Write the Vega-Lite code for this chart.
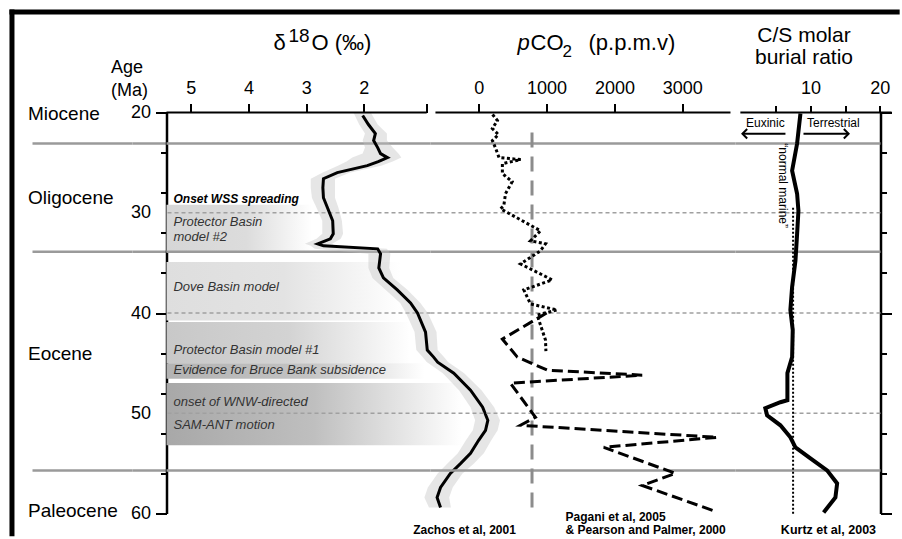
{
  "$schema": "https://vega.github.io/schema/vega-lite/v6.json",
  "padding": {"left": 6.5, "top": 6.5, "right": 0, "bottom": 0},
  "background": "white",
  "spacing": 0,
  "bounds": "flush",
  "config": {
    "view": {"stroke": null},
    "font": "Liberation Sans",
    "axis": {"grid": false, "labelFont": "Liberation Sans", "titleFont": "Liberation Sans", "labelColor": "#000", "titleColor": "#000", "domainColor": "#000", "tickColor": "#000"}
  },
  "datasets": {
    "bounds": [{"age": 23.1}, {"age": 33.9}, {"age": 55.7}],
    "dashes": [{"age": 30}, {"age": 40}, {"age": 50}],
    "d18o": [
      {"age": 20.3, "v": 2.02}, {"age": 21.2, "v": 1.92}, {"age": 22.1, "v": 1.80}, {"age": 22.8, "v": 1.83},
      {"age": 23.5, "v": 1.76}, {"age": 24.1, "v": 1.71}, {"age": 24.5, "v": 1.59}, {"age": 24.9, "v": 1.75},
      {"age": 25.3, "v": 1.94}, {"age": 26.0, "v": 2.46}, {"age": 26.6, "v": 2.70}, {"age": 27.5, "v": 2.71},
      {"age": 28.5, "v": 2.70}, {"age": 29.5, "v": 2.63}, {"age": 30.8, "v": 2.54}, {"age": 32.1, "v": 2.53},
      {"age": 32.6, "v": 2.58}, {"age": 33.1, "v": 2.80}, {"age": 33.3, "v": 2.70}, {"age": 33.6, "v": 1.76},
      {"age": 34.1, "v": 1.71}, {"age": 35.5, "v": 1.74}, {"age": 36.5, "v": 1.66}, {"age": 37.7, "v": 1.42},
      {"age": 39.0, "v": 1.19}, {"age": 40.0, "v": 1.07}, {"age": 41.9, "v": 0.93}, {"age": 43.7, "v": 0.90},
      {"age": 44.4, "v": 0.79}, {"age": 44.9, "v": 0.72}, {"age": 46.0, "v": 0.44}, {"age": 47.7, "v": 0.15},
      {"age": 49.4, "v": -0.06}, {"age": 50.7, "v": -0.15}, {"age": 51.7, "v": -0.11}, {"age": 52.7, "v": 0.01},
      {"age": 54.0, "v": 0.15}, {"age": 55.0, "v": 0.32}, {"age": 56.0, "v": 0.50}, {"age": 57.4, "v": 0.67},
      {"age": 58.4, "v": 0.73}, {"age": 59.4, "v": 0.67}
    ],
    "scatter": [
      {"age": 20.0, "lo": 1.88, "hi": 2.18}, {"age": 21.2, "lo": 1.76, "hi": 2.08}, {"age": 22.1, "lo": 1.60, "hi": 1.98},
      {"age": 22.8, "lo": 1.60, "hi": 2.02}, {"age": 23.5, "lo": 1.50, "hi": 1.98}, {"age": 24.1, "lo": 1.40, "hi": 2.02},
      {"age": 24.5, "lo": 1.35, "hi": 2.20}, {"age": 24.9, "lo": 1.50, "hi": 2.30}, {"age": 25.3, "lo": 1.70, "hi": 2.45},
      {"age": 26.0, "lo": 2.25, "hi": 2.72}, {"age": 26.6, "lo": 2.50, "hi": 2.92}, {"age": 27.5, "lo": 2.50, "hi": 2.92},
      {"age": 28.5, "lo": 2.50, "hi": 2.90}, {"age": 29.5, "lo": 2.44, "hi": 2.82}, {"age": 30.8, "lo": 2.38, "hi": 2.72},
      {"age": 32.1, "lo": 2.36, "hi": 2.72}, {"age": 32.6, "lo": 2.40, "hi": 2.82}, {"age": 33.1, "lo": 2.55, "hi": 3.02},
      {"age": 33.3, "lo": 2.50, "hi": 2.92}, {"age": 33.6, "lo": 1.60, "hi": 2.85}, {"age": 34.1, "lo": 1.54, "hi": 1.92},
      {"age": 35.5, "lo": 1.56, "hi": 1.92}, {"age": 36.5, "lo": 1.49, "hi": 1.85}, {"age": 37.7, "lo": 1.24, "hi": 1.62},
      {"age": 39.0, "lo": 1.02, "hi": 1.37}, {"age": 40.0, "lo": 0.89, "hi": 1.27}, {"age": 41.9, "lo": 0.74, "hi": 1.12},
      {"age": 43.7, "lo": 0.72, "hi": 1.09}, {"age": 44.4, "lo": 0.61, "hi": 0.98}, {"age": 44.9, "lo": 0.54, "hi": 0.91},
      {"age": 46.0, "lo": 0.26, "hi": 0.63}, {"age": 47.7, "lo": -0.04, "hi": 0.35}, {"age": 49.4, "lo": -0.26, "hi": 0.15},
      {"age": 50.7, "lo": -0.36, "hi": 0.07}, {"age": 51.7, "lo": -0.32, "hi": 0.11}, {"age": 52.7, "lo": -0.21, "hi": 0.23},
      {"age": 54.0, "lo": -0.08, "hi": 0.37}, {"age": 55.0, "lo": 0.09, "hi": 0.55}, {"age": 56.0, "lo": 0.29, "hi": 0.72},
      {"age": 57.4, "lo": 0.46, "hi": 0.89}, {"age": 58.4, "lo": 0.52, "hi": 0.95}, {"age": 59.4, "lo": 0.49, "hi": 0.87}
    ],
    "bands": [
      {"band": "P2", "a0": 29.2, "a1": 33.93, "x0": 5.421, "x1": 2.9},
      {"band": "Dove", "a0": 34.92, "a1": 40.74, "x0": 5.421, "x1": 1.36},
      {"band": "P1", "a0": 40.9, "a1": 45.0, "x0": 5.421, "x1": 1.2},
      {"band": "BB", "a0": 45.0, "a1": 46.55, "x0": 5.421, "x1": 0.95},
      {"band": "WNW", "a0": 46.99, "a1": 53.2, "x0": 5.421, "x1": 0.3}
    ],
    "blabels": [
      {"t": "Protector Basin", "age": 30.97},
      {"t": "model #2", "age": 32.46},
      {"t": "Dove Basin model", "age": 37.45},
      {"t": "Protector Basin model #1", "age": 43.73},
      {"t": "Evidence for Bruce Bank subsidence", "age": 45.72},
      {"t": "onset of WNW-directed", "age": 48.91},
      {"t": "SAM-ANT motion", "age": 51.2}
    ],
    "pp": [
      {"age": 20.2, "ppm": 203}, {"age": 20.8, "ppm": 275}, {"age": 21.6, "ppm": 200}, {"age": 22.2, "ppm": 290},
      {"age": 22.8, "ppm": 201}, {"age": 23.6, "ppm": 250}, {"age": 24.5, "ppm": 299}, {"age": 24.7, "ppm": 618},
      {"age": 25.1, "ppm": 348}, {"age": 26.1, "ppm": 348}, {"age": 26.9, "ppm": 493}, {"age": 28.1, "ppm": 394},
      {"age": 29.3, "ppm": 369}, {"age": 29.6, "ppm": 320}, {"age": 31.8, "ppm": 910}, {"age": 32.8, "ppm": 763},
      {"age": 33.1, "ppm": 984}, {"age": 33.8, "ppm": 910}, {"age": 35.1, "ppm": 615}, {"age": 36.7, "ppm": 1083},
      {"age": 37.7, "ppm": 664}, {"age": 39.1, "ppm": 763}, {"age": 39.7, "ppm": 1156}, {"age": 40.2, "ppm": 861},
      {"age": 42.7, "ppm": 984}, {"age": 43.8, "ppm": 990}
    ],
    "pagani": [
      {"age": 40.0, "ppm": 1000}, {"age": 42.6, "ppm": 348}, {"age": 44.4, "ppm": 569}, {"age": 45.7, "ppm": 1010},
      {"age": 46.2, "ppm": 2410}, {"age": 47.0, "ppm": 466}, {"age": 50.4, "ppm": 836}, {"age": 51.2, "ppm": 615},
      {"age": 52.4, "ppm": 3516}, {"age": 53.4, "ppm": 1844}, {"age": 56.0, "ppm": 2901}, {"age": 57.2, "ppm": 2410},
      {"age": 59.85, "ppm": 3516}
    ],
    "cs": [
      {"age": 20.1, "v": 8.56}, {"age": 23.1, "v": 8.08}, {"age": 25.8, "v": 7.36}, {"age": 28.1, "v": 8.08},
      {"age": 29.8, "v": 8.27}, {"age": 32.1, "v": 8.08}, {"age": 34.8, "v": 7.84}, {"age": 37.4, "v": 7.36},
      {"age": 39.7, "v": 7.11}, {"age": 41.7, "v": 7.45}, {"age": 44.4, "v": 7.36}, {"age": 46.0, "v": 6.68},
      {"age": 48.7, "v": 6.68}, {"age": 48.9, "v": 5.67}, {"age": 49.5, "v": 3.5}, {"age": 50.2, "v": 3.75},
      {"age": 51.2, "v": 5.67}, {"age": 52.4, "v": 7.11}, {"age": 53.4, "v": 7.84}, {"age": 54.5, "v": 10.0},
      {"age": 55.7, "v": 12.4}, {"age": 57.0, "v": 13.85}, {"age": 58.4, "v": 13.6}, {"age": 59.9, "v": 11.9}
    ],
    "frame": [
      {"x0": 8.10, "x1": 8.10, "a0": 9.73, "a1": 62.27},
      {"x0": 8.144, "x1": -7.29, "a0": 9.98, "a1": 9.98}
    ]
  },
  "hconcat": [
    {
      "width": 100,
      "height": 401,
      "data": {"name": "bounds"},
      "mark": {"type": "rule", "color": "#9a9a9a", "strokeWidth": 2.5},
      "encoding": {
        "y": {
          "field": "age", "type": "quantitative",
          "scale": {"domain": [20, 60], "reverse": true, "nice": false, "zero": false},
          "axis": {
            "orient": "left",
            "values": [20.1, 28.44, 44.06, 59.7],
            "labelExpr": "datum.value < 21 ? 'Miocene' : datum.value < 30 ? 'Oligocene' : datum.value < 50 ? 'Eocene' : 'Paleocene'",
            "domain": false, "ticks": false, "tickSize": 0,
            "labelAlign": "left", "labelBaseline": "middle", "labelPadding": 5,
            "labelFontSize": 19, "labelOverlap": false, "title": null
          }
        }
      }
    },
    {
      "width": 34,
      "height": 401,
      "data": {"name": "bounds"},
      "mark": {"type": "rule", "color": "#9a9a9a", "strokeWidth": 2.5},
      "encoding": {
        "y": {
          "field": "age", "type": "quantitative",
          "scale": {"domain": [20, 60], "reverse": true, "nice": false, "zero": false},
          "axis": {
            "orient": "right",
            "values": [20, 30, 40, 50, 60],
            "format": "d",
            "domain": false, "ticks": false, "tickSize": 0,
            "labelAlign": "right", "labelBaseline": "middle", "labelPadding": -16,
            "labelFontSize": 18, "labelOverlap": false, "labelFlush": false, "title": null
          }
        }
      }
    },
    {
      "width": 264,
      "height": 401,
      "layer": [
        {
          "data": {"name": "bands"},
          "transform": [{"filter": "datum.band === 'P2'"}],
          "mark": {"type": "rect", "color": {"gradient": "linear", "x1": 0, "y1": 0, "x2": 1, "y2": 0, "stops": [{"offset": 0, "color": "#d6d6d6"}, {"offset": 0.55, "color": "#dcdcdc"}, {"offset": 1, "color": "#ffffff"}]}},
          "encoding": {
            "x": {"field": "x0", "type": "quantitative",
              "scale": {"domain": [0.844, 5.421], "reverse": true, "nice": false, "zero": false},
              "axis": {"orient": "top", "values": [5, 4, 3, 2, 0.91], "format": "d", "labelExpr": "datum.value < 1 ? '' : datum.label", "domain": false, "tickSize": 9, "tickWidth": 2, "labelFontSize": 18, "labelPadding": 6, "labelFlush": false, "labelOverlap": false, "title": null}},
            "x2": {"field": "x1"},
            "y": {"field": "a0", "type": "quantitative",
              "scale": {"domain": [20, 60], "reverse": true, "nice": false, "zero": false},
              "axis": {
                "orient": "left",
                "values": [20, 22, 24, 26, 28, 30, 32, 34, 36, 38, 40, 42, 44, 46, 48, 50, 52, 54, 56, 58, 60],
                "labels": false,
                "tickSize": {"condition": {"test": "datum.value % 10 !== 0", "value": 6}, "value": 11},
                "tickWidth": 2, "domainWidth": 2.5,
                "title": ["Age", "(Ma)"], "titleAngle": 0, "titleAlign": "left", "titleBaseline": "alphabetic",
                "titleX": -56, "titleY": -40, "titleFontSize": 18, "titleFontWeight": "normal", "titleLineHeight": 23
              }},
            "y2": {"field": "a1"}
          }
        },
        {
          "data": {"name": "bands"},
          "transform": [{"filter": "datum.band === 'Dove'"}],
          "mark": {"type": "rect", "color": {"gradient": "linear", "x1": 0, "y1": 0, "x2": 1, "y2": 0, "stops": [{"offset": 0, "color": "#dedede"}, {"offset": 0.5, "color": "#e3e3e3"}, {"offset": 1, "color": "#ffffff"}]}},
          "encoding": {"x": {"field": "x0", "type": "quantitative"}, "x2": {"field": "x1"}, "y": {"field": "a0", "type": "quantitative"}, "y2": {"field": "a1"}}
        },
        {
          "data": {"name": "bands"},
          "transform": [{"filter": "datum.band === 'P1'"}],
          "mark": {"type": "rect", "color": {"gradient": "linear", "x1": 0, "y1": 0, "x2": 1, "y2": 0, "stops": [{"offset": 0, "color": "#c8c8c8"}, {"offset": 0.5, "color": "#d3d3d3"}, {"offset": 1, "color": "#ffffff"}]}},
          "encoding": {"x": {"field": "x0", "type": "quantitative"}, "x2": {"field": "x1"}, "y": {"field": "a0", "type": "quantitative"}, "y2": {"field": "a1"}}
        },
        {
          "data": {"name": "bands"},
          "transform": [{"filter": "datum.band === 'BB'"}],
          "mark": {"type": "rect", "color": {"gradient": "linear", "x1": 0, "y1": 0, "x2": 1, "y2": 0, "stops": [{"offset": 0, "color": "#b3b3b3"}, {"offset": 0.55, "color": "#c3c3c3"}, {"offset": 1, "color": "#ffffff"}]}},
          "encoding": {"x": {"field": "x0", "type": "quantitative"}, "x2": {"field": "x1"}, "y": {"field": "a0", "type": "quantitative"}, "y2": {"field": "a1"}}
        },
        {
          "data": {"name": "bands"},
          "transform": [{"filter": "datum.band === 'WNW'"}],
          "mark": {"type": "rect", "color": {"gradient": "linear", "x1": 0, "y1": 0, "x2": 1, "y2": 0, "stops": [{"offset": 0, "color": "#a8a8a8"}, {"offset": 0.5, "color": "#bfbfbf"}, {"offset": 1, "color": "#ffffff"}]}},
          "encoding": {"x": {"field": "x0", "type": "quantitative"}, "x2": {"field": "x1"}, "y": {"field": "a0", "type": "quantitative"}, "y2": {"field": "a1"}}
        },
        {
          "data": {"name": "bounds"},
          "mark": {"type": "rule", "color": "#9a9a9a", "strokeWidth": 2.5},
          "encoding": {"y": {"field": "age", "type": "quantitative"}}
        },
        {
          "data": {"name": "dashes"},
          "mark": {"type": "rule", "color": "#a0a0a0", "strokeWidth": 1.5, "strokeDash": [4, 3]},
          "encoding": {"y": {"field": "age", "type": "quantitative"}}
        },
        {
          "data": {"name": "scatter"},
          "mark": {"type": "area", "orient": "horizontal", "color": "#c0c0c0", "opacity": 0.4},
          "encoding": {"y": {"field": "age", "type": "quantitative"}, "x": {"field": "lo", "type": "quantitative"}, "x2": {"field": "hi"}}
        },
        {
          "data": {"name": "d18o"},
          "mark": {"type": "line", "color": "#000", "strokeWidth": 3},
          "encoding": {"y": {"field": "age", "type": "quantitative"}, "x": {"field": "v", "type": "quantitative"}, "order": {"field": "age", "type": "quantitative"}}
        },
        {
          "data": {"values": [{"t": "Onset WSS spreading", "age": 28.67}]},
          "mark": {"type": "text", "align": "left", "baseline": "middle", "fontSize": 12, "fontStyle": "italic", "fontWeight": "bold", "color": "#000"},
          "encoding": {"x": {"datum": 5.30}, "y": {"field": "age", "type": "quantitative"}, "text": {"field": "t"}}
        },
        {
          "data": {"name": "blabels"},
          "mark": {"type": "text", "align": "left", "baseline": "middle", "fontSize": 13, "fontStyle": "italic", "color": "#333333"},
          "encoding": {"x": {"datum": 5.30}, "y": {"field": "age", "type": "quantitative"}, "text": {"field": "t"}}
        },
        {
          "data": {"values": [{"x0": 5.421, "x1": 0.91}]},
          "mark": {"type": "rule", "color": "#000", "strokeWidth": 2},
          "encoding": {"x": {"field": "x0", "type": "quantitative"}, "x2": {"field": "x1"}, "y": {"datum": 20}}
        },
        {
          "data": {"values": [{}]},
          "mark": {"type": "text", "text": "δ", "align": "left", "baseline": "alphabetic", "fontSize": 22, "color": "#000"},
          "encoding": {"x": {"datum": 3.566}, "y": {"datum": 13.815}}
        },
        {
          "data": {"values": [{}]},
          "mark": {"type": "text", "text": "18", "align": "left", "baseline": "alphabetic", "fontSize": 19, "color": "#000"},
          "encoding": {"x": {"datum": 3.306}, "y": {"datum": 12.92}}
        },
        {
          "data": {"values": [{}]},
          "mark": {"type": "text", "text": "O (‰)", "align": "left", "baseline": "alphabetic", "fontSize": 22, "color": "#000"},
          "encoding": {"x": {"datum": 2.907}, "y": {"datum": 13.815}}
        },
        {
          "data": {"values": [{}]},
          "mark": {"type": "text", "text": "Zachos et al, 2001", "align": "center", "baseline": "middle", "fontSize": 12, "fontWeight": "bold", "color": "#000"},
          "encoding": {"x": {"datum": 0.254}, "y": {"datum": 61.68}}
        },
        {
          "data": {"name": "frame"},
          "mark": {"type": "rule", "color": "#000", "strokeWidth": 5},
          "encoding": {"x": {"field": "x0", "type": "quantitative"}, "x2": {"field": "x1"}, "y": {"field": "a0", "type": "quantitative"}, "y2": {"field": "a1"}}
        }
      ]
    },
    {
      "width": 305,
      "height": 401,
      "layer": [
        {
          "data": {"name": "bounds"},
          "mark": {"type": "rule", "color": "#9a9a9a", "strokeWidth": 2.5},
          "encoding": {"y": {"field": "age", "type": "quantitative", "scale": {"domain": [20, 60], "reverse": true, "nice": false, "zero": false}, "axis": null}}
        },
        {
          "data": {"name": "dashes"},
          "mark": {"type": "rule", "color": "#a0a0a0", "strokeWidth": 1.5, "strokeDash": [4, 3]},
          "encoding": {"y": {"field": "age", "type": "quantitative"}}
        },
        {
          "data": {"values": [{"ppm": 785, "a0": 22.0, "a1": 59.9}]},
          "mark": {"type": "rule", "color": "#8c8c8c", "strokeWidth": 3, "strokeDash": [15, 9]},
          "encoding": {
            "x": {"field": "ppm", "type": "quantitative",
              "scale": {"domain": [-712, 3786], "nice": false, "zero": false},
              "axis": {"orient": "top", "values": [0, 1000, 2000, 3000], "format": "d", "domain": false, "tickSize": 9, "tickWidth": 2, "labelFontSize": 18, "labelPadding": 6, "labelFlush": false, "labelOverlap": false, "title": null}},
            "y": {"field": "a0", "type": "quantitative"},
            "y2": {"field": "a1"}
          }
        },
        {
          "data": {"name": "pp"},
          "mark": {"type": "line", "color": "#000", "strokeWidth": 3, "strokeDash": [3, 2.5]},
          "encoding": {"x": {"field": "ppm", "type": "quantitative"}, "y": {"field": "age", "type": "quantitative"}, "order": {"field": "age", "type": "quantitative"}}
        },
        {
          "data": {"name": "pagani"},
          "mark": {"type": "line", "color": "#000", "strokeWidth": 3, "strokeDash": [11, 5]},
          "encoding": {"x": {"field": "ppm", "type": "quantitative"}, "y": {"field": "age", "type": "quantitative"}, "order": {"field": "age", "type": "quantitative"}}
        },
        {
          "data": {"values": [{"x0": -639, "x1": 3712}]},
          "mark": {"type": "rule", "color": "#000", "strokeWidth": 2},
          "encoding": {"x": {"field": "x0", "type": "quantitative"}, "x2": {"field": "x1"}, "y": {"datum": 20}}
        },
        {
          "data": {"values": [{}]},
          "mark": {"type": "text", "text": "p", "align": "left", "baseline": "alphabetic", "fontSize": 22, "fontStyle": "italic", "color": "#000"},
          "encoding": {"x": {"datum": 571}, "y": {"datum": 13.72}}
        },
        {
          "data": {"values": [{}]},
          "mark": {"type": "text", "text": "CO", "align": "left", "baseline": "alphabetic", "fontSize": 22, "color": "#000"},
          "encoding": {"x": {"datum": 763}, "y": {"datum": 13.72}}
        },
        {
          "data": {"values": [{}]},
          "mark": {"type": "text", "text": "2", "align": "left", "baseline": "alphabetic", "fontSize": 17, "color": "#000"},
          "encoding": {"x": {"datum": 1235}, "y": {"datum": 14.51}}
        },
        {
          "data": {"values": [{}]},
          "mark": {"type": "text", "text": "(p.p.m.v)", "align": "left", "baseline": "alphabetic", "fontSize": 22, "color": "#000"},
          "encoding": {"x": {"datum": 1618}, "y": {"datum": 13.72}}
        },
        {
          "data": {"values": [{"t": "Pagani et al, 2005", "age": 60.38}, {"t": "& Pearson and Palmer, 2000", "age": 61.68}]},
          "mark": {"type": "text", "align": "left", "baseline": "middle", "fontSize": 12, "fontWeight": "bold", "color": "#000"},
          "encoding": {"x": {"datum": 1280}, "y": {"field": "age", "type": "quantitative"}, "text": {"field": "t"}}
        }
      ]
    },
    {
      "width": 145,
      "height": 401,
      "layer": [
        {
          "data": {"name": "bounds"},
          "mark": {"type": "rule", "color": "#9a9a9a", "strokeWidth": 2.5},
          "encoding": {"y": {"field": "age", "type": "quantitative",
            "scale": {"domain": [20, 60], "reverse": true, "nice": false, "zero": false},
            "axis": {
              "orient": "right",
              "values": [20, 22, 24, 26, 28, 30, 32, 34, 36, 38, 40, 42, 44, 46, 48, 50, 52, 54, 56, 58, 60],
              "labels": false,
              "tickSize": {"condition": {"test": "datum.value % 10 !== 0", "value": 6}, "value": 11},
              "tickWidth": 2, "domainWidth": 2.5, "title": null
            }}}
        },
        {
          "data": {"name": "dashes"},
          "mark": {"type": "rule", "color": "#a0a0a0", "strokeWidth": 1.5, "strokeDash": [4, 3]},
          "encoding": {"y": {"field": "age", "type": "quantitative"}}
        },
        {
          "data": {"values": [{"v": 7.5, "a0": 29.5, "a1": 60.2}]},
          "mark": {"type": "rule", "color": "#000", "strokeWidth": 2, "strokeDash": [2, 2]},
          "encoding": {
            "x": {"field": "v", "type": "quantitative",
              "scale": {"domain": [-0.8, 20.1], "nice": false, "zero": false},
              "axis": {"orient": "top", "values": [5, 10, 15, 20], "labelExpr": "datum.value % 10 === 0 ? datum.label : ''", "domain": false, "tickSize": 7, "tickWidth": 2, "labelFontSize": 18, "labelPadding": 8, "labelFlush": false, "labelOverlap": false,
                "title": ["C/S molar", "burial ratio"], "titleX": 68, "titleY": -71, "titleAlign": "center", "titleBaseline": "alphabetic", "titleFontSize": 21, "titleFontWeight": "normal", "titleLineHeight": 21.5}},
            "y": {"field": "a0", "type": "quantitative"},
            "y2": {"field": "a1"}
          }
        },
        {
          "data": {"name": "cs"},
          "mark": {"type": "line", "color": "#000", "strokeWidth": 4},
          "encoding": {"x": {"field": "v", "type": "quantitative"}, "y": {"field": "age", "type": "quantitative"}, "order": {"field": "age", "type": "quantitative"}}
        },
        {
          "data": {"values": [{"x0": 6.4, "x1": 0.2}, {"x0": 9.0, "x1": 15.5}]},
          "mark": {"type": "rule", "color": "#000", "strokeWidth": 2},
          "encoding": {"x": {"field": "x0", "type": "quantitative"}, "x2": {"field": "x1"}, "y": {"datum": 22.12}}
        },
        {
          "data": {"values": [{"v": 0.2}]},
          "mark": {"type": "point", "shape": "M 1 -1 L 0 0 L 1 1", "filled": false, "stroke": "#000", "strokeWidth": 2, "size": 90, "opacity": 1},
          "encoding": {"x": {"field": "v", "type": "quantitative"}, "y": {"datum": 22.12}}
        },
        {
          "data": {"values": [{"v": 15.5}]},
          "mark": {"type": "point", "shape": "M -1 -1 L 0 0 L -1 1", "filled": false, "stroke": "#000", "strokeWidth": 2, "size": 90, "opacity": 1},
          "encoding": {"x": {"field": "v", "type": "quantitative"}, "y": {"datum": 22.12}}
        },
        {
          "data": {"values": [{"t": "Euxinic", "v": 3.5}, {"t": "Terrestrial", "v": 13.3}]},
          "mark": {"type": "text", "align": "center", "baseline": "middle", "fontSize": 12, "color": "#000"},
          "encoding": {"x": {"field": "v", "type": "quantitative"}, "y": {"datum": 21.05}, "text": {"field": "t"}}
        },
        {
          "data": {"values": [{}]},
          "mark": {"type": "text", "text": "“normal marine”", "angle": 90, "align": "center", "baseline": "middle", "fontSize": 12, "color": "#000"},
          "encoding": {"x": {"datum": 6.1}, "y": {"datum": 27.3}}
        },
        {
          "data": {"values": [{"x0": -0.1, "x1": 21.7}]},
          "mark": {"type": "rule", "color": "#000", "strokeWidth": 2},
          "encoding": {"x": {"field": "x0", "type": "quantitative"}, "x2": {"field": "x1"}, "y": {"datum": 20}}
        },
        {
          "data": {"values": [{}]},
          "mark": {"type": "text", "text": "Kurtz et al, 2003", "align": "center", "baseline": "middle", "fontSize": 12.5, "fontWeight": "bold", "color": "#000"},
          "encoding": {"x": {"datum": 12.6}, "y": {"datum": 61.68}}
        }
      ]
    }
  ]
}
